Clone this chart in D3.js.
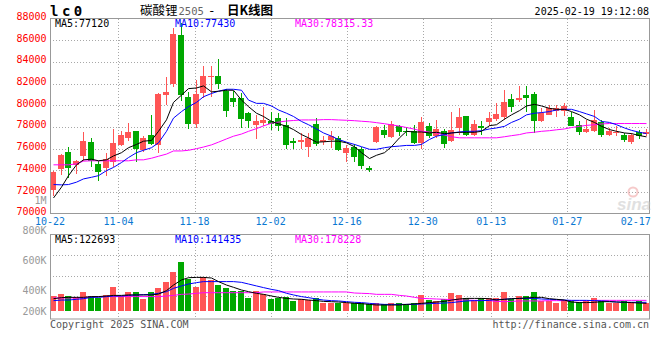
<!DOCTYPE html>
<html>
<head>
<meta charset="utf-8">
<script src="https://cdn.jsdelivr.net/npm/d3@7/dist/d3.min.js"></script>
<style>
	body { margin: 0; background: #fff; }
	svg { display: block; }
	text { font-family: "DejaVu Sans Mono", "Liberation Mono", monospace; font-size: 10px; }
</style>
</head>
<body>
<svg id="chart" width="660" height="360"></svg>
<script>
// daily candles, 10-22 .. 02-19 (80 trading days)
const openP  = [72150,74090,75690,74510,75330,76600,74570,74210,74800,76330,
	77000,77600,75850,77300,76330,80940,82000,86500,80780,78300,
	81090,82600,82750,81330,80640,80690,79270,78150,78360,78570,
	78820,78210,76690,76600,76180,78300,76600,76760,77000,75570,
	76180,75940,74180,76630,77760,77060,78120,77660,77660,76480,
	78120,77150,77660,76690,77910,79030,77300,78120,78450,78720,
	78910,80540,80480,80940,81030,78510,79120,79510,79450,78910,
	78210,77510,77600,78420,77300,77450,77300,76600,77510,77390];
const highP  = [73950,75540,76150,74940,77540,76940,74880,75630,77800,77660,
	78360,77650,77150,79060,81100,82600,87150,87600,81240,82300,
	83660,83630,84300,81540,81360,81100,79420,79120,79820,79420,
	79330,78820,77000,77450,77450,78820,77150,77600,77150,76300,
	76390,76180,74420,78060,78210,78570,78210,77970,78210,78880,
	78360,78660,77820,79420,79720,79030,78660,78510,79360,80180,
	81390,81000,81800,81750,81240,79720,80030,80030,80240,79420,
	78510,78660,79570,78660,77910,78060,77450,77450,77760,77820];
const lowP   = [71600,73600,73300,73700,74880,74330,73060,73510,74300,76240,
	76690,74800,75720,76330,75640,80030,81700,80400,77850,77900,
	80630,80750,81540,78880,79880,77910,77900,76850,78060,77760,
	77600,75940,75940,75940,75270,76240,76300,76090,75790,74790,
	74790,74120,73820,76540,77000,77000,77150,77150,76390,75940,
	77000,77000,76030,76600,77300,77210,77210,77300,78060,78510,
	78660,79420,80330,79420,77450,78420,79120,78910,78970,78060,
	77300,77450,77540,77060,77210,77150,76630,76390,76850,77150];
const closeP = [73820,75390,74210,74850,76690,74880,73880,75030,76550,77300,
	77510,75940,76940,76390,81030,81240,86550,80940,78300,81030,
	82660,82750,81940,79480,80330,78750,78570,78570,78660,78270,
	78060,76300,76540,76760,77000,76390,76760,77150,75880,76090,
	75270,74420,74060,77970,77240,78300,77510,77510,76480,78420,
	77150,77820,76390,77690,78910,77300,78300,77910,78820,79210,
	80330,79880,80720,80720,78510,79270,79720,79720,79910,78120,
	77510,77820,78660,77300,77600,77540,76760,77240,77150,77510];

// price moving averages
const ma5  = [71450,72450,73510,74510,74970,75030,74880,74970,75330,75630,
	76090,76390,76690,76760,77600,78660,80270,80940,81540,81600,
	81790,81240,81300,81390,81390,80480,79880,79270,78970,78510,
	78300,78060,77760,77300,77000,76600,76630,76690,76690,76540,
	76180,75630,75090,75390,75630,76180,77000,77600,77540,77540,
	77450,77510,77390,77450,77510,77510,77510,77600,78120,78210,
	78720,79120,79510,79940,80090,79940,79720,79630,79630,79420,
	79120,78720,78420,78060,77760,77600,77450,77390,77210,77090];
const ma10 = [72690,72660,72690,72910,73210,73360,73510,73970,74270,74720,
	75180,75630,75850,76090,76540,77600,78820,79420,79880,80270,
	80790,81090,81300,81480,81480,81390,80480,80180,80180,79940,
	79570,79270,78970,78510,78210,77820,77450,77150,76850,76600,
	76390,76180,75940,75940,76090,76180,76240,76300,76300,76390,
	76850,77150,77300,77450,77540,77600,77600,77660,77820,77910,
	78060,78420,78720,79120,79270,79330,79420,79570,79630,79630,
	79420,79210,78970,78510,78420,78210,77910,77690,77510,77390];
const ma30 = [74510,74510,74510,74600,74850,74880,74880,74880,74880,74880,
	74880,74970,74970,75120,75300,75500,75790,75790,75850,76000,
	76150,76350,76600,76900,77150,77350,77600,77850,78100,78350,
	78450,78550,78600,78650,78650,78650,78680,78680,78650,78620,
	78580,78530,78480,78400,78300,78200,78080,77950,77800,77620,
	77530,77450,77250,77100,77000,77000,77000,77000,77000,77000,
	77100,77200,77300,77450,77520,77600,77660,77740,77820,77950,
	78060,78150,78210,78280,78320,78320,78320,78320,78320,78315];

// volume, thousands of lots
const vol = [360,373,360,356,384,360,349,367,418,360,
	384,384,340,384,411,451,520,587,473,420,
	484,467,433,411,393,393,344,393,373,340,
	349,356,327,338,333,344,316,316,316,311,
	311,311,304,311,304,311,311,307,311,367,
	333,327,338,382,367,344,333,344,344,344,
	389,338,360,360,389,327,327,311,333,327,
	322,327,344,327,316,316,327,322,327,316];
const vma5  = [342,349,351,351,351,356,356,360,364,364,
	367,367,367,367,373,396,433,467,482,484,
	484,480,456,433,418,400,389,378,371,360,
	351,344,340,338,333,329,324,322,320,316,
	311,309,304,300,300,300,300,304,307,311,
	316,320,324,333,340,344,344,344,342,333,
	338,342,344,347,351,351,342,338,333,320,
	316,316,318,322,322,320,318,316,313,311];
const vma10 = [329,333,333,338,342,351,351,356,360,360,
	364,367,369,371,378,389,411,427,440,449,
	456,456,456,456,456,451,440,427,416,404,
	396,378,367,356,349,340,333,329,327,322,
	318,316,311,307,304,304,304,304,304,307,
	309,311,313,316,322,327,329,329,331,336,
	338,342,344,344,344,340,338,336,333,331,
	331,331,329,327,324,320,318,318,318,318];
const vma30 = [347,347,347,347,347,356,356,356,356,356,
	356,356,356,356,356,360,364,371,373,378,
	382,382,382,382,382,382,382,382,387,387,
	387,387,387,387,387,387,387,387,387,387,
	380,378,376,371,371,371,364,360,351,344,
	342,340,338,336,333,333,331,331,329,324,
	322,324,327,327,327,327,329,329,329,329,
	329,329,331,331,331,331,331,331,331,331];

const dateLabels = ['10-22','11-04','11-18','12-02','12-16','12-30','01-13','01-27','02-17'];
const dateIdx    = [0, 9, 19, 29, 39, 49, 58, 68, 77];
const priceTicks = [88000,86000,84000,82000,80000,78000,76000,74000,72000,70000];
const volTicks   = [1000, 800, 600, 400, 200];
const volTickLabels = ['1M','800K','600K','400K','200K'];

const RED = '#ff5555', GREEN = '#00a800', GRID = '#a8a8a8', FRAME = '#999';
const n = closeP.length;

const svg = d3.select('#chart');
const x = d3.scaleBand().domain(d3.range(n)).range([50, 649.5]).paddingInner(0.2);
const xt = d3.scaleLinear().domain([0, n - 1]).range([50, 651]);
const y = d3.scaleLinear().domain([70000, 88000]).range([213.7, 18.6]);
const yv = d3.scaleLinear().domain([0, 1000]).range([350, 200]);
const bx = i => Math.round(x(i));
const cx = i => Math.round(x(i)) + 3.5;

// ---------- price panel ----------
const g = svg.append('g');
g.selectAll('line.hgrid').data(priceTicks.slice(1, -1)).join('line')
	.attr('x1', 50).attr('x2', 650)
	.attr('y1', d => Math.round(y(d)) + 0.5).attr('y2', d => Math.round(y(d)) + 0.5)
	.attr('stroke', GRID).attr('stroke-dasharray', '1,2');
g.selectAll('line.vgrid').data(dateIdx.slice(1, -1)).join('line')
	.attr('x1', d => Math.round(xt(d)) + 0.5).attr('x2', d => Math.round(xt(d)) + 0.5)
	.attr('y1', 19).attr('y2', 213)
	.attr('stroke', GRID).attr('stroke-dasharray', '1,2');

g.selectAll('text.py').data(priceTicks).join('text')
	.attr('x', 46.5).attr('y', d => y(d) + 1.5)
	.attr('text-anchor', 'end').attr('fill', '#f00')
	.text(d => d);

g.selectAll('text.dx').data(dateIdx).join('text')
	.attr('x', d => xt(d)).attr('y', 224.5)
	.attr('text-anchor', 'middle').attr('fill', '#0a78d2')
	.text((d, k) => dateLabels[k]);

const up = i => closeP[i] >= openP[i];
const candles = g.append('g').attr('shape-rendering', 'crispEdges');
candles.selectAll('line').data(d3.range(n)).join('line')
	.attr('x1', cx).attr('x2', cx)
	.attr('y1', i => y(highP[i])).attr('y2', i => y(lowP[i]))
	.attr('stroke', i => up(i) ? RED : GREEN);
candles.selectAll('rect').data(d3.range(n)).join('rect')
	.attr('x', bx).attr('width', 6)
	.attr('y', i => y(Math.max(openP[i], closeP[i])))
	.attr('height', i => Math.max(1.2, Math.abs(y(openP[i]) - y(closeP[i]))))
	.attr('fill', i => up(i) ? RED : GREEN);

const priceLine = d3.line().x((d, i) => cx(i)).y(d => y(d));
[[ma30, '#ff00ff'], [ma10, '#0000ff'], [ma5, '#000']].forEach(([s, c]) => {
	g.append('path').attr('d', priceLine(s)).attr('fill', 'none')
		.attr('stroke', c).attr('stroke-width', 1);
});

g.append('rect').attr('x', 50.5).attr('y', 18.5).attr('width', 599).attr('height', 195)
	.attr('fill', 'none').attr('stroke', FRAME);

g.append('text').attr('x', 55).attr('y', 26.5).attr('fill', '#000').text('MA5:77120');
g.append('text').attr('x', 175).attr('y', 26.5).attr('fill', '#0000ff').text('MA10:77430');
g.append('text').attr('x', 295).attr('y', 26.5).attr('fill', '#ff00ff').text('MA30:78315.33');

// sina watermark
const wm = g.append('g').attr('opacity', 0.55);
wm.append('circle').attr('cx', 633).attr('cy', 192).attr('r', 4.5)
	.attr('fill', 'none').attr('stroke', '#f0a0a0').attr('stroke-width', 2);
wm.append('text').attr('x', 617).attr('y', 210)
	.style('font-family', '"Liberation Sans", Arial, sans-serif')
	.style('font-size', '17px').style('font-style', 'italic').style('font-weight', 'bold')
	.attr('fill', '#c8c8c8').text('sina');

// ---------- header ----------
svg.append('text').attr('x', 50).attr('y', 16)
	.style('font-size', '14px').style('font-weight', 'bold').style('letter-spacing', '3.5px')
	.text('lc0');
const title = svg.append('text').attr('y', 15)
	.style('font-family', '"Noto Sans CJK SC", sans-serif').style('font-size', '12.5px');
title.append('tspan').attr('x', 140).text('碳酸锂');
title.append('tspan').attr('x', 178.5).attr('fill', '#666')
	.style('font-family', '"DejaVu Sans Mono", monospace').style('font-size', '10.5px').text('2505');
title.append('tspan').attr('x', 208).style('font-family', '"DejaVu Sans Mono", monospace').text('-');
title.append('tspan').attr('x', 227).style('font-weight', 'bold').text('日K线图');
svg.append('text').attr('x', 649).attr('y', 15).attr('text-anchor', 'end')
	.text('2025-02-19 19:12:08');

// ---------- volume panel ----------
const v = svg.append('g');
v.selectAll('line.hgrid').data([1, 2, 3]).join('line')
	.attr('x1', 50).attr('x2', 650)
	.attr('y1', k => Math.round(235 + k * 20.3) + 0.5).attr('y2', k => Math.round(235 + k * 20.3) + 0.5)
	.attr('stroke', GRID).attr('stroke-dasharray', '1,2');
v.selectAll('line.vgrid').data(dateIdx.slice(1, -1)).join('line')
	.attr('x1', d => Math.round(xt(d)) + 0.5).attr('x2', d => Math.round(xt(d)) + 0.5)
	.attr('y1', 235).attr('y2', 319)
	.attr('stroke', GRID).attr('stroke-dasharray', '1,2');

v.selectAll('text.vy').data(volTicks).join('text')
	.attr('x', 46.5).attr('y', d => Math.min(yv(d), 311) + 3.5)
	.attr('text-anchor', 'end').attr('fill', '#999')
	.text((d, k) => volTickLabels[k]);

v.append('g').attr('shape-rendering', 'crispEdges')
	.selectAll('rect').data(d3.range(n)).join('rect')
	.attr('x', bx).attr('width', 6)
	.attr('y', i => yv(vol[i])).attr('height', i => 311 - yv(vol[i]))
	.attr('fill', i => up(i) ? RED : GREEN);

const volLine = d3.line().x((d, i) => cx(i)).y(d => yv(d));
[[vma30, '#ff00ff'], [vma10, '#0000ff'], [vma5, '#000']].forEach(([s, c]) => {
	v.append('path').attr('d', volLine(s)).attr('fill', 'none')
		.attr('stroke', c).attr('stroke-width', 1);
});

v.append('rect').attr('x', 50.5).attr('y', 234.5).attr('width', 599).attr('height', 84.5)
	.attr('fill', 'none').attr('stroke', FRAME);

v.append('text').attr('x', 55).attr('y', 242.5).attr('fill', '#000').text('MA5:122693');
v.append('text').attr('x', 175).attr('y', 242.5).attr('fill', '#0000ff').text('MA10:141435');
v.append('text').attr('x', 295).attr('y', 242.5).attr('fill', '#ff00ff').text('MA30:178228');

// ---------- footer ----------
svg.append('text').attr('x', 50).attr('y', 327.5).attr('fill', '#555').text('Copyright 2025 SINA.COM');
svg.append('text').attr('x', 649).attr('y', 327.5).attr('text-anchor', 'end').attr('fill', '#555')
	.text('http://finance.sina.com.cn');
</script>
</body>
</html>
